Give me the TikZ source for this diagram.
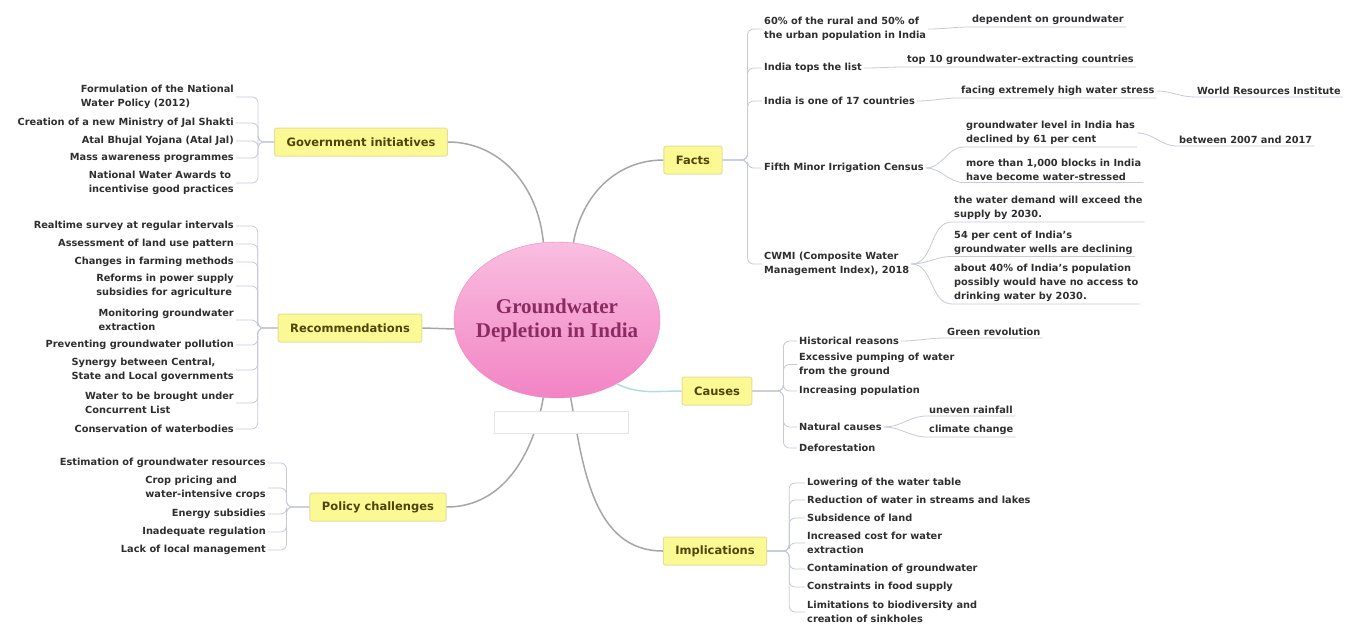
\documentclass[tikz,border=0pt]{standalone}
\usepackage{fontspec}
\setmainfont{DejaVu Sans}
\newfontfamily\corefont{Liberation Serif}
\usetikzlibrary{shapes.geometric}
\definecolor{gwpink}{HTML}{F284C4}
\definecolor{gwpinklight}{HTML}{F9BEE0}
\definecolor{gwplum}{HTML}{8C2A62}
\definecolor{gwyellow}{HTML}{FBF993}
\definecolor{gwedge}{HTML}{E6DE9A}
\definecolor{gwolive}{HTML}{4B4508}
\definecolor{gwtext}{HTML}{2E2E2E}
\definecolor{gwline}{HTML}{A6A6A6}
\definecolor{gwteal}{HTML}{B2DEDC}
\definecolor{gwtree}{HTML}{C6C9D8}
\tikzset{
  core/.style={ellipse, top color=gwpinklight, bottom color=gwpink, draw=gwpink,
    minimum width=206pt, minimum height=156pt, inner xsep=-14pt, inner ysep=0pt, align=center,
    font=\corefont\bfseries\fontsize{21}{24}\selectfont, text=gwplum},
  topic/.style={draw=gwedge, line width=1pt, fill=gwyellow, rounded corners=2pt,
    inner xsep=12pt, minimum height=28pt,
    font=\bfseries\fontsize{11.5}{14}\selectfont, text=gwolive},
  leafL/.style={anchor=east, align=left, inner sep=2pt,
    font=\bfseries\fontsize{9.8}{14}\selectfont, text=gwtext},
  leafR/.style={leafL, anchor=west},
  branch/.style={draw=gwline, line width=1.5pt},
  tree/.style={draw=gwtree, line width=0.8pt, rounded corners=6pt},
  sub/.style={draw=gwtree, line width=0.8pt},
  mask/.style={fill=white, draw=gray!20}
}
\begin{document}
\begin{tikzpicture}[x=1pt,y=-1pt]%Groundwater depletion in India
\useasboundingbox (0,0) rectangle (1355,625);
\node[core] (core) at (557,320) {Groundwater\\Depletion in India};
\node[topic] (gov) at (361,142) {Government initiatives};
\node[topic] (rec) at (350,328) {Recommendations};
\node[topic] (pol) at (378,507) {Policy challenges};
\node[topic] (facts) at (693,160) {Facts};
\node[topic] (cau) at (717,391) {Causes};
\node[topic] (imp) at (715,551) {Implications};
% government initiatives
\node[leafL] (g1) at (236,97) {Formulation of the National\\Water Policy (2012)};
\node[leafL] (g2) at (236,123) {Creation of a new Ministry of Jal Shakti};
\node[leafL] (g3) at (236,141) {Atal Bhujal Yojana (Atal Jal)};
\node[leafL] (g4) at (236,158) {Mass awareness programmes};
\node[leafL] (g5) at (236,183) {National Water Awards to\\incentivise good practices};
% recommendations
\node[leafL] (r1) at (236,226) {Realtime survey at regular intervals};
\node[leafL] (r2) at (236,244) {Assessment of land use pattern};
\node[leafL] (r3) at (236,262) {Changes in farming methods};
\node[leafL] (r4) at (236,286) {Reforms in power supply\\subsidies for agriculture};
\node[leafL] (r5) at (236,320) {Monitoring groundwater\\extraction};
\node[leafL] (r6) at (236,345) {Preventing groundwater pollution};
\node[leafL] (r7) at (236,370) {Synergy between Central,\\State and Local governments};
\node[leafL] (r8) at (236,403) {Water to be brought under\\Concurrent List};
\node[leafL] (r9) at (236,429) {Conservation of waterbodies};
% policy challenges
\node[leafL] (p1) at (268,463) {Estimation of groundwater resources};
\node[leafL] (p2) at (268,488) {Crop pricing and\\water-intensive crops};
\node[leafL] (p3) at (268,514) {Energy subsidies};
\node[leafL] (p4) at (268,532) {Inadequate regulation};
\node[leafL] (p5) at (268,550) {Lack of local management};
% facts
\node[leafR] (f1) at (762,29) {60\% of the rural and 50\% of\\the urban population in India};
\node[leafR] (f2) at (762,68) {India tops the list};
\node[leafR] (f3) at (762,101) {India is one of 17 countries};
\node[leafR] (f4) at (762,168) {Fifth Minor Irrigation Census};
\node[leafR] (f5) at (762,264) {CWMI (Composite Water\\Management Index), 2018};
\node[leafR] (f1a) at (970,20) {dependent on groundwater};
\node[leafR] (f2a) at (905,60) {top 10 groundwater-extracting countries};
\node[leafR] (f3a) at (959,91) {facing extremely high water stress};
\node[leafR] (f3b) at (1195,91) {World Resources Institute};
\node[leafR] (f4a) at (964,133) {groundwater level in India has\\declined by 61 per cent};
\node[leafR] (f4b) at (964,169.5) {more than 1,000 blocks in India\\have become water-stressed};
\node[leafR] (f4c) at (1177,140) {between 2007 and 2017};
\node[leafR] (f5a) at (952,208) {the water demand will exceed the\\supply by 2030.};
\node[leafR] (f5b) at (952,242.5) {54 per cent of India's\\groundwater wells are declining};
\node[leafR] (f5c) at (952,283) {about 40\% of India's population\\possibly would have no access to\\drinking water by 2030.};
% causes
\node[leafR] (c1) at (797,341) {Historical reasons};
\node[leafR] (c2) at (797,364.5) {Excessive pumping of water\\from the ground};
\node[leafR] (c3) at (797,391) {Increasing population};
\node[leafR] (c4) at (797,427) {Natural causes};
\node[leafR] (c5) at (797,448) {Deforestation};
\node[leafR] (c1a) at (945,332) {Green revolution};
\node[leafR] (c4a) at (927,410) {uneven rainfall};
\node[leafR] (c4b) at (927,430) {climate change};
% implications
\node[leafR] (i1) at (805,483) {Lowering of the water table};
\node[leafR] (i2) at (805,500) {Reduction of water in streams and lakes};
\node[leafR] (i3) at (805,518) {Subsidence of land};
\node[leafR] (i4) at (805,543) {Increased cost for water\\extraction};
\node[leafR] (i5) at (805,569) {Contamination of groundwater};
\node[leafR] (i6) at (805,587) {Constraints in food supply};
\node[leafR] (i7) at (805,612) {Limitations to biodiversity and\\creation of sinkholes};
% main branches
\draw[branch] (core.100) to[out=95,in=0] (gov.east);
\draw[branch] (core.185) -- (rec.east);
\draw[branch] (core.260) to[out=-100,in=0] (pol.east);
\draw[branch] (core.78) to[out=80,in=180] (facts.west);
\draw[branch,draw=gwteal] (core.313) to[out=-25,in=180] (cau.west);
\draw[branch] (core.280) to[out=-80,in=180] (imp.west);
% trees
\foreach \n in {g1,g2,g3,g4,g5} \draw[tree] (gov.west) -- ++(-16,0) |- (\n.east);
\foreach \n in {r1,r2,r3,r4,r5,r6,r7,r8,r9} \draw[tree] (rec.west) -- ++(-20,0) |- (\n.east);
\foreach \n in {p1,p2,p3,p4,p5} \draw[tree] (pol.west) -- ++(-23,0) |- (\n.east);
\foreach \n in {f1,f2,f3,f4,f5} \draw[tree] (facts.east) -- ++(25,0) |- (\n.west);
\foreach \n in {c1,c2,c3,c4,c5} \draw[tree] (cau.east) -- ++(31,0) |- (\n.west);
\foreach \n in {i1,i2,i3,i4,i5,i6,i7} \draw[tree] (imp.east) -- ++(22,0) |- (\n.west);
\foreach \p/\c in {f1/f1a,f2/f2a,f3/f3a,f3a/f3b,f4/f4a,f4/f4b,f4a/f4c,f5/f5a,f5/f5b,f5/f5c,c1/c1a,c4/c4a,c4/c4b}
  \draw[sub] (\p.east) to[out=0,in=180] (\c.south west) -- (\c.south east);
\draw[mask] (494,411) rectangle (628,433);
\end{tikzpicture}
\end{document}
